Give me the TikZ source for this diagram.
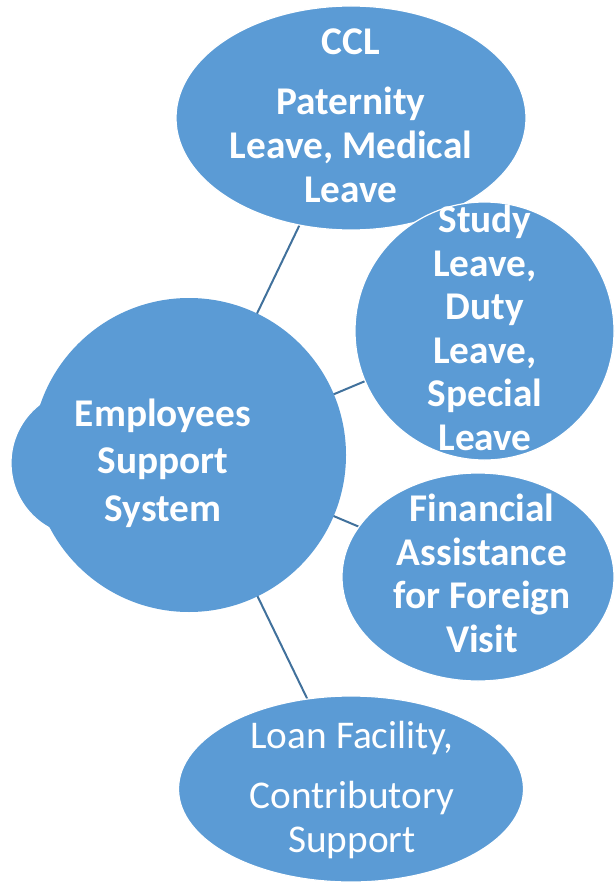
\documentclass[tikz,border=0pt]{standalone}
\usepackage{fontspec}
\setmainfont{Carlito}
\usetikzlibrary{shapes.geometric, backgrounds}
\definecolor{bubble}{HTML}{5B9BD5}
\definecolor{spoke}{HTML}{41719C}

\begin{document}
\begin{tikzpicture}[x=1pt,y=-1pt,
	bubble/.style={ellipse,fill=bubble,draw=white,line width=1.2pt,inner sep=0pt},
	txt/.style={text=white,align=center,anchor=base,font=\fontsize{39.3}{43.5}\selectfont\bfseries},
	spoke/.style={draw=spoke,line width=2pt}]
	\useasboundingbox (0,0) rectangle (615,882);

	% centre bubble with its bulge on the left
	\fill[bubble] (85,463) circle (74pt);
	\node[bubble,draw=none,minimum width=314pt,minimum height=314pt] (ess) at (189,455) {};

	\node[bubble,minimum width=350pt,minimum height=224pt] (ccl) at (351,118) {};
	\node[bubble,minimum width=259pt,minimum height=258pt] (study) at (484.5,331) {};
	\node[bubble,minimum width=272pt,minimum height=208pt] (fin) at (478,577) {};
	\node[bubble,minimum width=345pt,minimum height=186pt] (loan) at (351,789) {};

	\begin{scope}[on background layer]
		\foreach \n in {ccl,study,fin,loan}
			\draw[spoke] (ess.center) -- (\n.center);
	\end{scope}

	% texts sit on the baseline of their last line
	\node[txt,font=\fontsize{39.3}{47.5}\selectfont\bfseries] (esstxt) at (163,521) {Employees\\Support\\System};
	\node[txt,font=\fontsize{39.3}{44}\selectfont\bfseries] (ccltxt) at (351,203) {CCL\\[16pt]Paternity\\Leave, Medical\\Leave};
	\node[txt] (studytxt) at (485,450) {Study\\Leave,\\Duty\\Leave,\\Special\\Leave};
	\node[txt] (fintxt) at (482,652) {Financial\\Assistance\\for Foreign\\Visit};
	\node[txt,font=\fontsize{39.3}{44}\selectfont] (loantxt) at (352,852) {Loan Facility,\\[16pt]Contributory\\Support};
\end{tikzpicture}
\end{document}
